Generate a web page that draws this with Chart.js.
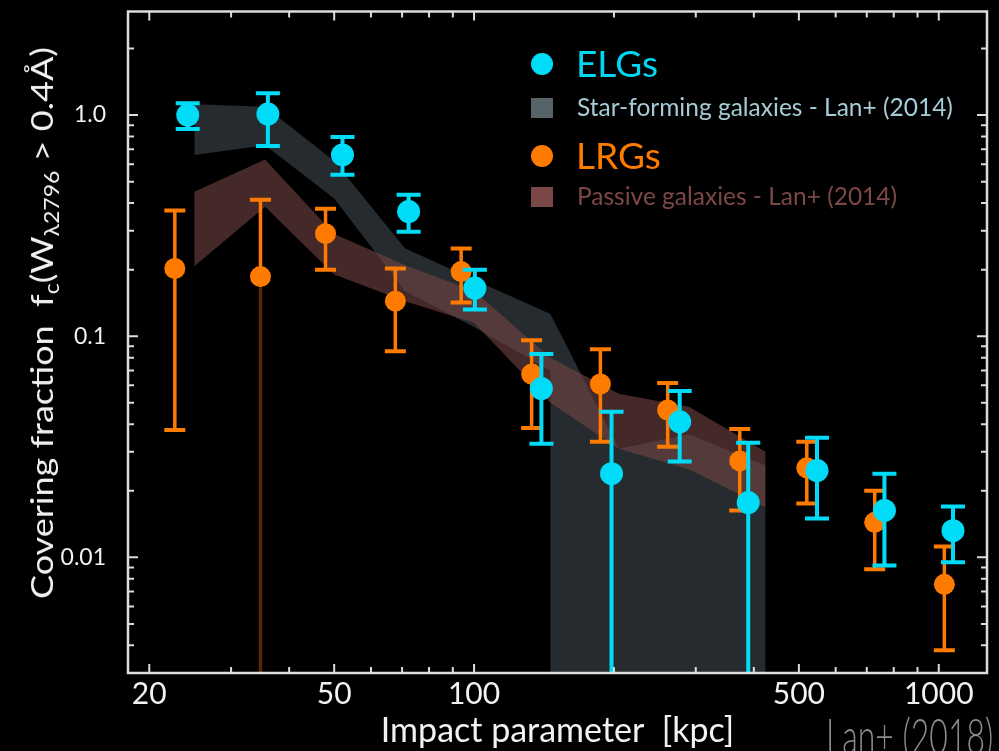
<!DOCTYPE html>
<html lang="en">
<head>
<meta charset="UTF-8">
<title>Covering fraction vs impact parameter</title>
<script src="https://cdn.jsdelivr.net/npm/chart.js@4.4.0/dist/chart.umd.min.js"></script>
<style>
  html, body { margin: 0; padding: 0; background: #000; overflow: hidden; }
  #wrap { position: relative; width: 999px; height: 751px; overflow: hidden; font-family: Lato, "Open Sans", sans-serif; }
  #chart { position: absolute; left: 0; top: 0; }
  .ytitle {
    position: absolute; left: 43px; top: 323px; white-space: pre; color: #f0f0f0; font-size: 36px; line-height: 1;
    transform: translate(-50%, -50%) rotate(-90deg) scaleY(0.88);
  }
  .ytitle sub { font-size: 23px; vertical-align: -7px; }
  .lg { position: absolute; white-space: nowrap; line-height: 1; }
  .dot { position: absolute; width: 22px; height: 22px; border-radius: 50%; }
  .sq { position: absolute; width: 22px; height: 20px; }
  .credit {
    position: absolute; left: 826px; top: 711px; font-size: 32px; font-weight: 300; color: #8c8c8c;
    white-space: nowrap; line-height: 1; transform: scaleY(1.55); transform-origin: left top;
  }
</style>
</head>
<body>
<div id="wrap">
  <canvas id="chart" width="999" height="751"></canvas>
  <div class="ytitle">Covering fraction  f<sub>c</sub>(W<sub>λ2796</sub> &gt; 0.4Å)</div>

  <!-- legend -->
  <div class="dot" style="left:531px; top:53px; background:#00dcf7;"></div>
  <div class="lg" style="left:576px; top:44px; font-size:37px; color:#00d8f3;">ELGs</div>
  <div class="sq" style="left:531px; top:98px; background:#56646a;"></div>
  <div class="lg" style="left:577px; top:95px; font-size:24.5px; color:#a5cbd6;">Star-forming galaxies - Lan+ (2014)</div>
  <div class="dot" style="left:531px; top:145px; background:#ff7b00;"></div>
  <div class="lg" style="left:576px; top:136px; font-size:37px; color:#ff7b00;">LRGs</div>
  <div class="sq" style="left:531px; top:187px; background:#7a4747;"></div>
  <div class="lg" style="left:577px; top:184px; font-size:24.5px; color:#7b4846;">Passive galaxies - Lan+ (2014)</div>

  <div class="credit">Lan+ (2018)</div>
</div>
<script>
  // ELGs (cyan points): impact parameter [kpc], covering fraction, error bar ends (0 = down to axis)
  const elgKpc = [24.2, 36.0, 52.1, 72.3, 100.4, 139.6, 197.6, 277, 389, 547, 764, 1073];
  const elgFc  = [1.0, 1.01, 0.66, 0.366, 0.165, 0.058, 0.0239, 0.041, 0.0177, 0.0247, 0.0163, 0.0132];
  const elgHi  = [1.13, 1.256, 0.796, 0.436, 0.200, 0.083, 0.0455, 0.0565, 0.033, 0.0347, 0.0239, 0.0170];
  const elgLo  = [0.865, 0.725, 0.537, 0.297, 0.132, 0.0326, 0, 0.0271, 0, 0.0150, 0.0092, 0.0095];

  // LRGs (orange points)
  const lrgKpc = [22.7, 34.7, 47.9, 67.7, 93.8, 133, 187, 261, 373, 520, 728, 1028];
  const lrgFc  = [0.2025, 0.186, 0.291, 0.144, 0.196, 0.0674, 0.0608, 0.0464, 0.0273, 0.0254, 0.0144, 0.00755];
  const lrgHi  = [0.37, 0.414, 0.377, 0.2025, 0.249, 0.096, 0.0874, 0.0614, 0.0381, 0.0333, 0.020, 0.0112];
  const lrgLo  = [0.0377, 0, 0.200, 0.0856, 0.142, 0.0385, 0.0333, 0.0316, 0.0163, 0.0175, 0.00883, 0.0038];

  // Lan+ (2014) bands, star-forming (lower edge falls off the plot after 146 kpc)
  const sfKpc   = [25, 35.5, 50, 71, 100, 146, 146, 205, 290, 424];
  const sfUpper = [1.12, 1.09, 0.62, 0.25, 0.18, 0.126, 0.126, 0.031, 0.036, 0.026];
  const sfLower = [0.66, 0.73, 0.42, 0.16, 0.11, 0.07, 0.0001, 0.0001, 0.0001, 0.0001];

  // Lan+ (2014) bands, passive
  const pgKpc   = [25, 35.5, 50, 71, 100, 146, 205, 290, 424];
  const pgUpper = [0.45, 0.63, 0.29, 0.21, 0.16, 0.08, 0.055, 0.048, 0.030];
  const pgLower = [0.207, 0.385, 0.19, 0.144, 0.115, 0.05, 0.031, 0.025, 0.0168];

  // axis ticks
  const xTickValues = [20, 50, 100, 500, 1000];
  const xTickLabels = ['20', '50', '100', '500', '1000'];
  const yTickValues = [1, 0.1, 0.01];
  const yTickLabels = ['1.0', '0.1', '0.01'];

  const pts = (xs, ys) => xs.map((v, i) => ({ x: v, y: ys[i] }));

  // error bars drawn just before each point dataset
  const errorBars = {
    id: 'errorBars',
    beforeDatasetDraw(chart, args) {
      const ds = chart.data.datasets[args.index];
      if (!ds.errHi) return;
      const { ctx, chartArea: a, scales: { x, y } } = chart;
      const line = (x1, y1, x2, y2) => { ctx.beginPath(); ctx.moveTo(x1, y1); ctx.lineTo(x2, y2); ctx.stroke(); };
      ctx.save();
      ctx.beginPath();
      ctx.rect(a.left, a.top, a.right - a.left, a.bottom - a.top);
      ctx.clip();
      ctx.lineCap = 'butt';
      ds.data.forEach((p, i) => {
        const px = x.getPixelForValue(p.x);
        const py = y.getPixelForValue(p.y);
        const hi = y.getPixelForValue(ds.errHi[i]);
        const open = ds.errLo[i] === 0;
        const lo = open ? a.bottom : y.getPixelForValue(ds.errLo[i]);
        const half = ds.capWidth / 2;
        ctx.strokeStyle = ds.backgroundColor;
        ctx.lineWidth = ds.barWidth;
        line(px, hi, px, py);
        ctx.lineWidth = 4;
        line(px - half, hi, px + half, hi);
        if (open) {
          ctx.strokeStyle = ds.openColor;
          ctx.lineWidth = ds.barWidth;
          line(px, py, px, lo);
        } else {
          ctx.lineWidth = ds.barWidth;
          line(px, py, px, lo);
          ctx.lineWidth = 4;
          line(px - half, lo, px + half, lo);
        }
      });
      ctx.restore();
    }
  };

  // box frame with inward ticks on all four sides
  const frameTicks = {
    id: 'frameTicks',
    afterDatasetsDraw(chart) {
      const { ctx, chartArea: a, scales: { x, y } } = chart;
      ctx.save();
      ctx.strokeStyle = '#dcdcdc';
      ctx.lineWidth = 2.5;
      ctx.strokeRect(a.left, a.top, a.right - a.left, a.bottom - a.top);
      ctx.lineWidth = 2;
      ctx.beginPath();
      for (let d = 10; d <= 1000; d *= 10) {
        for (let m = 1; m <= 9; m++) {
          const v = m * d;
          if (v < x.min || v > x.max) continue;
          const px = x.getPixelForValue(v);
          const len = xTickValues.includes(v) ? 9 : 6;
          ctx.moveTo(px, a.bottom); ctx.lineTo(px, a.bottom - len);
          ctx.moveTo(px, a.top); ctx.lineTo(px, a.top + len);
        }
      }
      for (let d = 0.001; d <= 1.01; d *= 10) {
        for (let m = 1; m <= 9; m++) {
          const v = m * d;
          if (v < y.min || v > y.max) continue;
          const py = y.getPixelForValue(v);
          const len = m === 1 ? 10 : 6;
          ctx.moveTo(a.left, py); ctx.lineTo(a.left + len, py);
          ctx.moveTo(a.right, py); ctx.lineTo(a.right - len, py);
        }
      }
      ctx.stroke();
      ctx.restore();
    }
  };

  const band = (data, color, fill) => ({
    data: data, showLine: true, pointRadius: 0, borderWidth: 1,
    borderColor: 'rgba(0,0,0,0)', backgroundColor: color, fill: fill
  });

  const config = {
    type: 'scatter',
    data: {
      datasets: [
        {
          label: 'ELGs', data: pts(elgKpc, elgFc), errHi: elgHi, errLo: elgLo,
          backgroundColor: '#00dcf7', openColor: '#00dcf7', barWidth: 4, capWidth: 24,
          pointRadius: 11.5, pointHoverRadius: 11.5, borderWidth: 0
        },
        {
          label: 'LRGs', data: pts(lrgKpc, lrgFc), errHi: lrgHi, errLo: lrgLo,
          backgroundColor: '#ff7b00', openColor: 'rgba(255,123,0,0.33)', barWidth: 3.5, capWidth: 21,
          pointRadius: 10.5, pointHoverRadius: 10.5, borderWidth: 0
        },
        band(pts(pgKpc, pgUpper), 'rgba(122,71,71,0.57)', '+1'),
        band(pts(pgKpc, pgLower), 'rgba(0,0,0,0)', false),
        band(pts(sfKpc, sfUpper), 'rgba(86,100,106,0.43)', '+1'),
        band(pts(sfKpc, sfLower), 'rgba(0,0,0,0)', false)
      ]
    },
    options: {
      responsive: false,
      animation: false,
      layout: { padding: { left: 0, top: 9, right: 12, bottom: 0 } },
      plugins: { legend: { display: false }, tooltip: { enabled: false } },
      scales: {
        x: {
          type: 'logarithmic', min: 18, max: 1270,
          grid: { display: false }, border: { display: false },
          afterBuildTicks: (s) => { s.ticks = xTickValues.map(v => ({ value: v })); },
          afterFit: (s) => { s.height = 78; s.paddingLeft = 0; s.paddingRight = 0; },
          ticks: {
            autoSkip: false, maxRotation: 0, padding: -5, color: '#f2f2f2',
            font: { family: '"Liberation Sans Narrow", Lato, sans-serif', size: 30 },
            callback: (v) => xTickLabels[xTickValues.indexOf(v)]
          },
          title: {
            display: true, text: 'Impact parameter  [kpc]', color: '#f2f2f2',
            font: { family: 'Lato, sans-serif', size: 34 }, padding: { top: 0, bottom: 0 }
          }
        },
        y: {
          type: 'logarithmic', min: 0.003, max: 2.94,
          grid: { display: false }, border: { display: false },
          afterBuildTicks: (s) => { s.ticks = yTickValues.map(v => ({ value: v })); },
          afterFit: (s) => { s.width = 128; s.paddingTop = 0; s.paddingBottom = 0; },
          ticks: {
            autoSkip: false, padding: 14, color: '#f2f2f2',
            font: { family: 'Lato, sans-serif', size: 23 },
            callback: (v) => yTickLabels[yTickValues.indexOf(v)]
          }
        }
      }
    },
    plugins: [errorBars, frameTicks]
  };

  const myChart = new Chart(document.getElementById('chart'), config);
</script>
</body>
</html>
